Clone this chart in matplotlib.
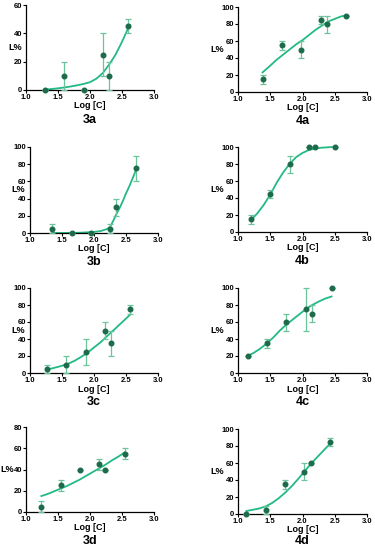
import matplotlib
matplotlib.use("Agg")
import matplotlib.pyplot as plt

plt.rcParams['font.family'] = ['Liberation Sans', 'DejaVu Sans']

# measured points: log concentration, L%, error (half-width)
x_3a = [1.3, 1.6, 1.9, 2.2, 2.3, 2.6]
y_3a = [0, 10, 0, 25, 10, 45]
e_3a = [0, 10, 0, 15, 10, 5]
cx_3a = [1.3, 1.4, 1.5, 1.6, 1.7, 1.8, 1.9, 2.0, 2.1, 2.2, 2.3, 2.4, 2.5, 2.62]
cy_3a = [0.3, 0.7, 1.2, 1.8, 2.5, 3.3, 4.3, 5.5, 8, 12, 18, 25, 34, 46]

x_4a = [1.38, 1.68, 1.98, 2.28, 2.38, 2.68]
y_4a = [15, 55, 50, 85, 80, 90]
e_4a = [5, 5, 10, 5, 10, 0]
cx_4a = [1.38, 1.5, 1.6, 1.7, 1.8, 1.9, 2.0, 2.1, 2.2, 2.3, 2.4, 2.5, 2.6, 2.68]
cy_4a = [23, 31, 38, 44, 50, 56, 61, 67, 73, 78, 83, 86, 89, 90]

x_3b = [1.35, 1.65, 1.95, 2.25, 2.35, 2.65]
y_3b = [5, 0, 0, 5, 30, 75]
e_3b = [5, 0, 0, 5, 10, 15]
cx_3b = [1.35, 1.5, 1.6, 1.7, 1.8, 1.9, 2.0, 2.1, 2.2, 2.25, 2.3, 2.35, 2.4, 2.45, 2.5, 2.55, 2.6, 2.65]
cy_3b = [0, 0, 0.1, 0.2, 0.4, 0.8, 1.3, 2.2, 4.5, 7, 14, 22, 29, 37, 46, 54, 63, 72]

x_4b = [1.2, 1.5, 1.8, 2.1, 2.2, 2.5]
y_4b = [15, 45, 80, 100, 100, 100]
e_4b = [5, 5, 10, 0, 0, 0]
cx_4b = [1.2, 1.3, 1.4, 1.5, 1.6, 1.7, 1.8, 1.9, 2.0, 2.1, 2.2, 2.3, 2.4, 2.5]
cy_4b = [14, 22, 32, 44, 58, 70, 80, 88, 93, 96.5, 98.3, 99.2, 99.7, 100]

x_3c = [1.27, 1.57, 1.87, 2.17, 2.27, 2.57]
y_3c = [5, 10, 25, 50, 35, 75]
e_3c = [5, 10, 15, 10, 15, 5]
cx_3c = [1.27, 1.4, 1.5, 1.6, 1.7, 1.8, 1.9, 2.0, 2.1, 2.2, 2.3, 2.4, 2.5, 2.57]
cy_3c = [4, 6.5, 8.5, 11, 14.5, 19, 24, 30, 36, 43, 50, 57, 64, 69]

x_4c = [1.15, 1.45, 1.75, 2.05, 2.15, 2.45]
y_4c = [20, 35, 60, 75, 70, 100]
e_4c = [0, 5, 10, 25, 10, 0]
cx_4c = [1.15, 1.25, 1.35, 1.45, 1.55, 1.65, 1.75, 1.85, 1.95, 2.05, 2.15, 2.25, 2.35, 2.45]
cy_4c = [20, 24, 29, 35, 42, 50, 57, 63, 69, 75, 80, 84, 87.5, 90]

x_3d = [1.24, 1.54, 1.84, 2.14, 2.24, 2.54]
y_3d = [5, 25, 40, 45, 40, 55]
e_3d = [5, 5, 0, 5, 0, 5]
cx_3d = [1.24, 1.34, 1.44, 1.54, 1.64, 1.74, 1.84, 1.94, 2.04, 2.14, 2.24, 2.34, 2.44, 2.54]
cy_3d = [15, 17, 19.5, 22, 24.5, 27.5, 30.5, 34, 37.5, 41, 44.5, 48.5, 52, 56]

x_4d = [1.13, 1.43, 1.73, 2.03, 2.13, 2.43]
y_4d = [0, 5, 35, 50, 60, 85]
e_4d = [0, 5, 5, 10, 0, 5]
cx_4d = [1.13, 1.23, 1.33, 1.43, 1.53, 1.63, 1.73, 1.83, 1.93, 2.03, 2.13, 2.23, 2.33, 2.43]
cy_4d = [3.5, 5, 6.5, 9, 13, 18.5, 25, 32.5, 41, 50, 59, 67, 75, 83]

xticks = [1.0, 1.5, 2.0, 2.5, 3.0]

# name, data, y max, box in pixels (left, right, top, bottom),
# L% offset, Log [C] offset and panel-name offset in px
panels = [
    ("3a", x_3a, y_3a, e_3a, cx_3a, cy_3a, 60, (26, 154, 5, 90), 11, 16, 30),
    ("4a", x_4a, y_4a, e_4a, cx_4a, cy_4a, 100, (238, 367, 7, 92), 21, 16, 29),
    ("3b", x_3b, y_3b, e_3b, cx_3b, cy_3b, 100, (30, 158, 147, 233), 12, 16, 29),
    ("4b", x_4b, y_4b, e_4b, cx_4b, cy_4b, 100, (238, 367, 147, 232), 21, 16, 29),
    ("3c", x_3c, y_3c, e_3c, cx_3c, cy_3c, 100, (30, 158, 288, 373), 12, 16, 29),
    ("4c", x_4c, y_4c, e_4c, cx_4c, cy_4c, 100, (238, 367, 288, 373), 21, 16, 29),
    ("3d", x_3d, y_3d, e_3d, cx_3d, cy_3d, 80, (26, 154, 427, 512), 19, 16, 29),
    ("4d", x_4d, y_4d, e_4d, cx_4d, cy_4d, 100, (238, 367, 429, 514), 21, 15.5, 27),
]

W, H = 375, 550
fig = plt.figure(figsize=(W / 100, H / 100), dpi=100)

for name, x, y, e, cx, cy, ymax, (l, r, t, b), loff, xoff, noff in panels:
    ax = fig.add_axes([l / W, 1 - b / H, (r - l) / W, (b - t) / H])
    ax.plot(cx, cy, color='#22b985', lw=1.3, zorder=2, clip_on=False)
    ax.errorbar(x, y, yerr=e, fmt='none', ecolor='#6cc49c', elinewidth=0.9,
                capsize=2, capthick=0.9, zorder=3, clip_on=False)
    ax.plot(x, y, 'o', color='#1d6b4b', ms=3.3, zorder=4, clip_on=False)
    ax.set_xlim(1.0, 3.0)
    ax.set_ylim(0, ymax)
    ax.set_xticks(xticks)
    ax.set_xticklabels([f"{v:.1f}" for v in xticks])
    ax.set_yticks(range(0, ymax + 1, 20))
    for s in ['top', 'right']:
        ax.spines[s].set_visible(False)
    for s in ['left', 'bottom']:
        ax.spines[s].set_linewidth(0.9)
    ax.tick_params(labelsize=5.5, width=0.8, length=2, pad=0.6)
    for lab in ax.get_xticklabels() + ax.get_yticklabels():
        lab.set_fontweight('bold')
    fig.text(((l + r) / 2) / W, 1 - (b + xoff) / H, "Log [C]", ha='center',
             va='center', fontsize=6.5, fontweight='bold')
    fig.text((l - loff) / W, 1 - ((t + b) / 2) / H, "L%", ha='center',
             va='center', fontsize=6.5, fontweight='bold')
    fig.text(((l + r) / 2) / W, 1 - (b + noff) / H, name, ha='center',
             va='center', fontsize=9, fontweight='bold')

fig.savefig("out.png", dpi=100)
